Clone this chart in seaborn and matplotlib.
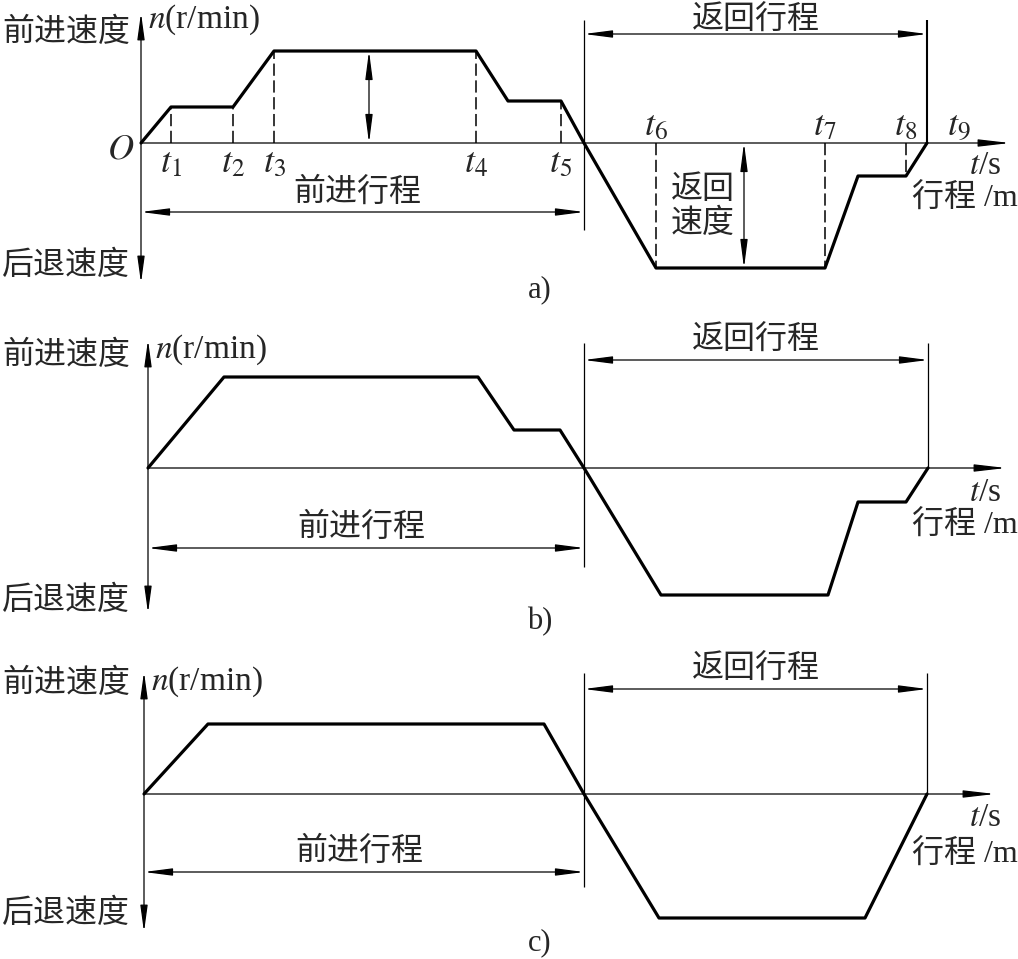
import numpy as np
import matplotlib
matplotlib.use("Agg")
import matplotlib.pyplot as plt
import seaborn as sns

sns.set_theme(style="white")
plt.rcParams["font.family"] = ["Noto Sans CJK SC", "DejaVu Sans"]
plt.rcParams["mathtext.fontset"] = "stix"

# speed profiles (time and speed in drawing units)
t_a = [0, 30, 92, 133, 335, 367, 420, 443, 515, 684, 717, 765, 786]
n_a = [0, 36, 36, 92, 92, 42, 42, 0, -125, -125, -33, -33, 0]
t_b = [0, 76, 330, 366, 412, 436, 513, 680, 710, 758, 780]
n_b = [0, 91, 91, 38, 38, 0, -127, -127, -34, -34, 0]
t_c = [0, 64, 400, 440, 515, 721, 783]
n_c = [0, 70, 70, 0, -124, -124, 0]

# instants marked in a)
marks_a = [30, 92, 133, 335, 420, 515, 684, 765]
mark_names = ["$t_1$", "$t_2$", "$t_3$", "$t_4$", "$t_5$", "$t_6$", "$t_7$", "$t_8$"]
panel_names = ["a)", "b)", "c)"]

W, H = 1018, 959
SERIF = "Liberation Serif"
MIX = ["Liberation Serif", "Noto Sans CJK SC"]
CJK_SIZE = 23

# layout of each panel, in drawing units relative to its origin
layouts = [
    dict(origin=(141, 143), n_top=130, n_bot=-140, t_axis=869, top=123, fwd_low=-87,
         ret_arrow=109, ret_text=123, fwd_arrow=-69, fwd_text=-49, ts=-23, xc=-56,
         lab=-147, v_up=111, v_dn=-122, nlab=123, end_lw=1.5),
    dict(origin=(148, 468), n_top=128, n_bot=-145, t_axis=858, top=125, fwd_low=-99,
         ret_arrow=108, ret_text=128, fwd_arrow=-80, fwd_text=-59, ts=-25, xc=-58,
         lab=-154, v_up=113, v_dn=-132, nlab=118, end_lw=0.9),
    dict(origin=(144, 794), n_top=122, n_bot=-138, t_axis=851, top=121, fwd_low=-93,
         ret_arrow=105, ret_text=125, fwd_arrow=-78, fwd_text=-57, ts=-24, xc=-61,
         lab=-149, v_up=111, v_dn=-119, nlab=112, end_lw=0.9),
]


def arrow(ax, p0, p1, style="<|-|>", lw=0.9, hl=1.7):
    ax.annotate("", xy=p1, xytext=p0,
                arrowprops=dict(arrowstyle=f"{style},head_length={hl},head_width=0.22",
                                color="black", lw=lw, shrinkA=0, shrinkB=0,
                                mutation_scale=10))


def draw_panel(ax, t, n, lay, name):
    ox, oy = lay["origin"]
    ax.set_xlim(-ox, W - ox)
    ax.set_ylim(oy - H, oy)
    ax.axis("off")
    t = np.asarray(t, dtype=float)
    n = np.asarray(n, dtype=float)
    t_zero = t[np.flatnonzero(n == 0)[1]]
    t_end = t[-1]

    # axes with arrows
    arrow(ax, (0, lay["n_bot"]), (0, lay["n_top"]), "<|-|>", hl=1.6)
    arrow(ax, (0, 0), (lay["t_axis"], 0), "-|>", hl=1.9)

    # the speed curve
    sns.lineplot(x=t, y=n, sort=False, estimator=None, color="black", lw=2.3, ax=ax)

    # stroke limits and dimension arrows
    ax.vlines(t_zero, lay["fwd_low"], lay["top"], color="black", lw=0.9)
    ax.vlines(t_end, 0, lay["top"], color="black", lw=lay["end_lw"])
    arrow(ax, (0, lay["fwd_arrow"]), (t_zero, lay["fwd_arrow"]))
    arrow(ax, (t_zero, lay["ret_arrow"]), (t_end, lay["ret_arrow"]))
    ax.text(t_zero / 2 - 5, lay["fwd_text"], "前进行程", fontsize=CJK_SIZE,
            ha="center", va="center")
    ax.text((t_zero + t_end) / 2, lay["ret_text"], "返回行程", fontsize=CJK_SIZE,
            ha="center", va="center")

    # axis captions
    ax.text(2 - ox, lay["v_up"], "前进速度", fontsize=CJK_SIZE, ha="left", va="center")
    ax.text(2 - ox, lay["v_dn"], "后退速度", fontsize=CJK_SIZE, ha="left", va="center")
    ax.text(7, lay["nlab"], "$n$(r/min)", family=SERIF, fontsize=24,
            ha="left", va="center")
    ax.text(985 - ox, lay["ts"], "$t$/s", family=SERIF, fontsize=24,
            ha="center", va="center")
    ax.text(965 - ox, lay["xc"], "行程 /m", family=MIX, fontsize=CJK_SIZE,
            ha="center", va="center")
    ax.text(540 - ox, lay["lab"], name, family=SERIF, fontsize=22,
            ha="center", va="center")
    return t_zero, t_end


fig = plt.figure(figsize=(W / 100, H / 100), dpi=100)
fig.patch.set_facecolor("white")
axes = [fig.add_axes([0, 0, 1, 1]) for _ in range(3)]
for ax in axes[1:]:
    ax.patch.set_alpha(0)

profiles = [(t_a, n_a), (t_b, n_b), (t_c, n_c)]
for ax, (t, n), lay, name in zip(axes, profiles, layouts, panel_names):
    draw_panel(ax, t, n, lay, name)

# extra marks in a)
ax = axes[0]
ta = np.asarray(t_a, dtype=float)
na = np.asarray(n_a, dtype=float)
for tm, lab in zip(marks_a, mark_names):
    nm = np.interp(tm, ta, na)
    ax.vlines(tm, 0, nm, color="black", lw=1.1, linestyles=(0, (8, 3)))
    ypos = -21 if nm > 0 else 16
    ax.text(tm, ypos, lab, family=SERIF, fontsize=26, ha="center", va="center")
ax.text(ta[-1] + 32, 16, "$t_9$", family=SERIF, fontsize=26, ha="center", va="center")
ax.text(-20, -7, "$O$", family=SERIF, fontsize=26, ha="center", va="center")
arrow(ax, (228, 0), (228, na.max()))
arrow(ax, (603, 0), (603, na.min()))
ax.text(562, -63, "返回\n速度", fontsize=CJK_SIZE, ha="center", va="center",
        linespacing=1.05)

fig.savefig("out.png", dpi=100, facecolor="white")
